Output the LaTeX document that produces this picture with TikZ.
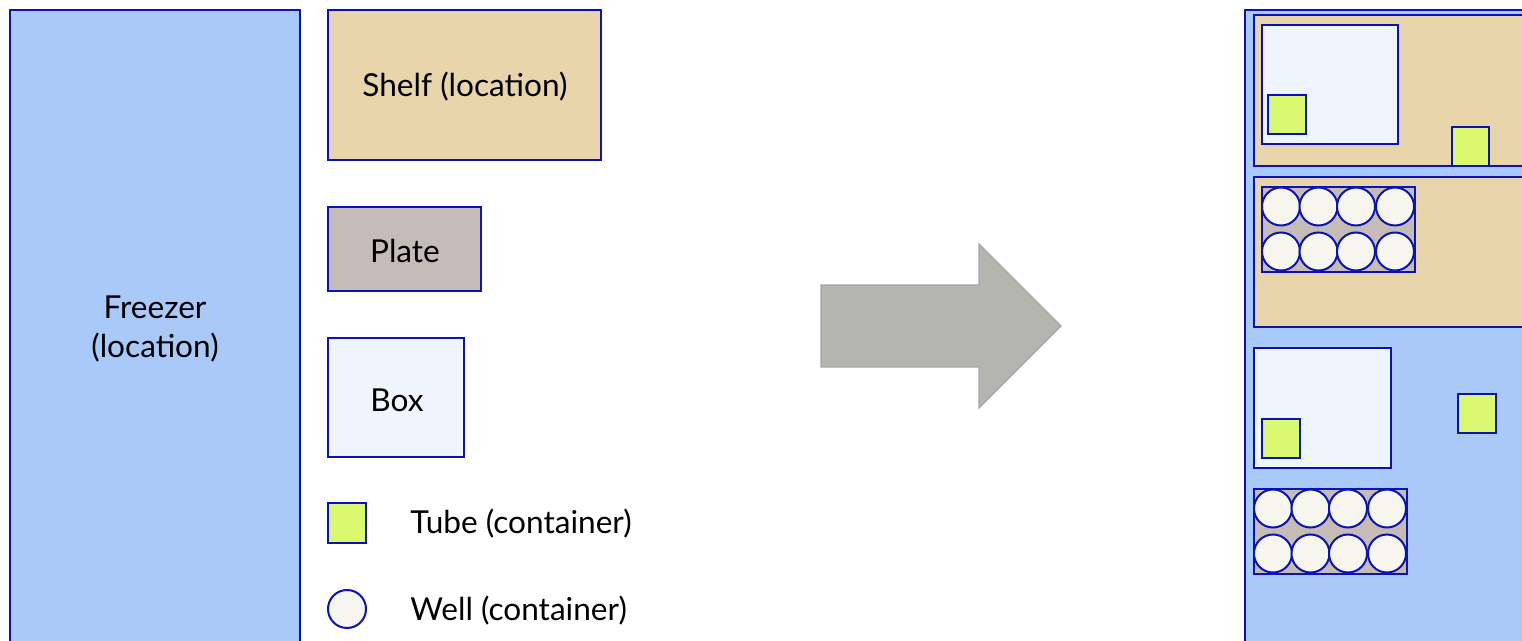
\documentclass[tikz,border=0pt]{standalone}
\usepackage{fontspec}
\setmainfont{Lato}
\usetikzlibrary{positioning}

\definecolor{edgeblue}{HTML}{0A14B4}
\definecolor{freezerblue}{HTML}{A9C9F9}
\definecolor{shelftan}{HTML}{E8D5AC}
\definecolor{plategrey}{HTML}{C5BCB8}
\definecolor{boxwhite}{HTML}{EEF5FD}
\definecolor{tubegreen}{HTML}{DAF870}
\definecolor{wellcream}{HTML}{F7F6EE}
\definecolor{arrowgrey}{HTML}{B4B5AF}

\tikzset{
  outline/.style={draw=edgeblue, line width=1pt},
  freezer/.style={outline, fill=freezerblue},
  shelf/.style={outline, fill=shelftan},
  plate/.style={outline, fill=plategrey},
  box/.style={outline, fill=boxwhite},
  tube/.style={outline, fill=tubegreen},
  well/.style={outline, fill=wellcream},
  label/.style={font=\fontsize{15.8}{19.5}\selectfont, text=black, inner sep=0pt},
  bigarrow/.style={draw=gray!70, line width=0.6pt, fill=arrowgrey}
}

% plate with 2x4 wells, top left corner at (#1,#2)
\newcommand{\wellplate}[2]{
  \path[plate] (#1,#2) rectangle ++(153,85);
  \foreach \dx in {19,56.5,94,133}
    \foreach \dy in {19.5,64.5}
      \path[well] (#1+\dx,#2+\dy) circle[radius=19];
}

\begin{document}
\begin{tikzpicture}[x=0.5pt,y=-0.5pt]
  \useasboundingbox (0,0) rectangle (1522,641);

  % legend
  \path[freezer] (10,10) rectangle (300,660);
  \node[label, align=center] (freezerlbl) at (155,329) {Freezer\\(location)};
  \path[shelf] (328,10) rectangle (601,160);
  \node[label] (shelflbl) at (465,87) {Shelf (location)};
  \path[plate] (328,207) rectangle (481,291);
  \node[label] (platelbl) at (405,251) {Plate};
  \path[box] (328,338) rectangle (464,457);
  \node[label] (boxlbl) at (397,400) {Box};
  \path[tube] (328,503) rectangle (366,543);
  \node[label, anchor=west] (tubelbl) at (410,524) {Tube (container)};
  \path[well] (347,609) circle[radius=19];
  \node[label, anchor=west] (welllbl) at (410,611) {Well (container)};

  % arrow
  \path[bigarrow] (821,285) -- (979,285) -- (979,244) -- (1061,326)
    -- (979,408) -- (979,367) -- (821,367) -- cycle;

  % freezer contents
  \path[freezer] (1245,10) rectangle (1540,660);
  \path[shelf] (1254,15) rectangle (1540,166);
  \path[box] (1262,25) rectangle (1398,144);
  \path[tube] (1268,95) rectangle (1306,134);
  \path[tube] (1452,127) rectangle (1489,166);
  \path[shelf] (1254,177) rectangle (1540,327);
  \wellplate{1262}{187}
  \path[box] (1254,348) rectangle (1391,468);
  \path[tube] (1262,419) rectangle (1300,458);
  \path[tube] (1458,394) rectangle (1496,433);
  \wellplate{1254}{489}
\end{tikzpicture}
\end{document}
